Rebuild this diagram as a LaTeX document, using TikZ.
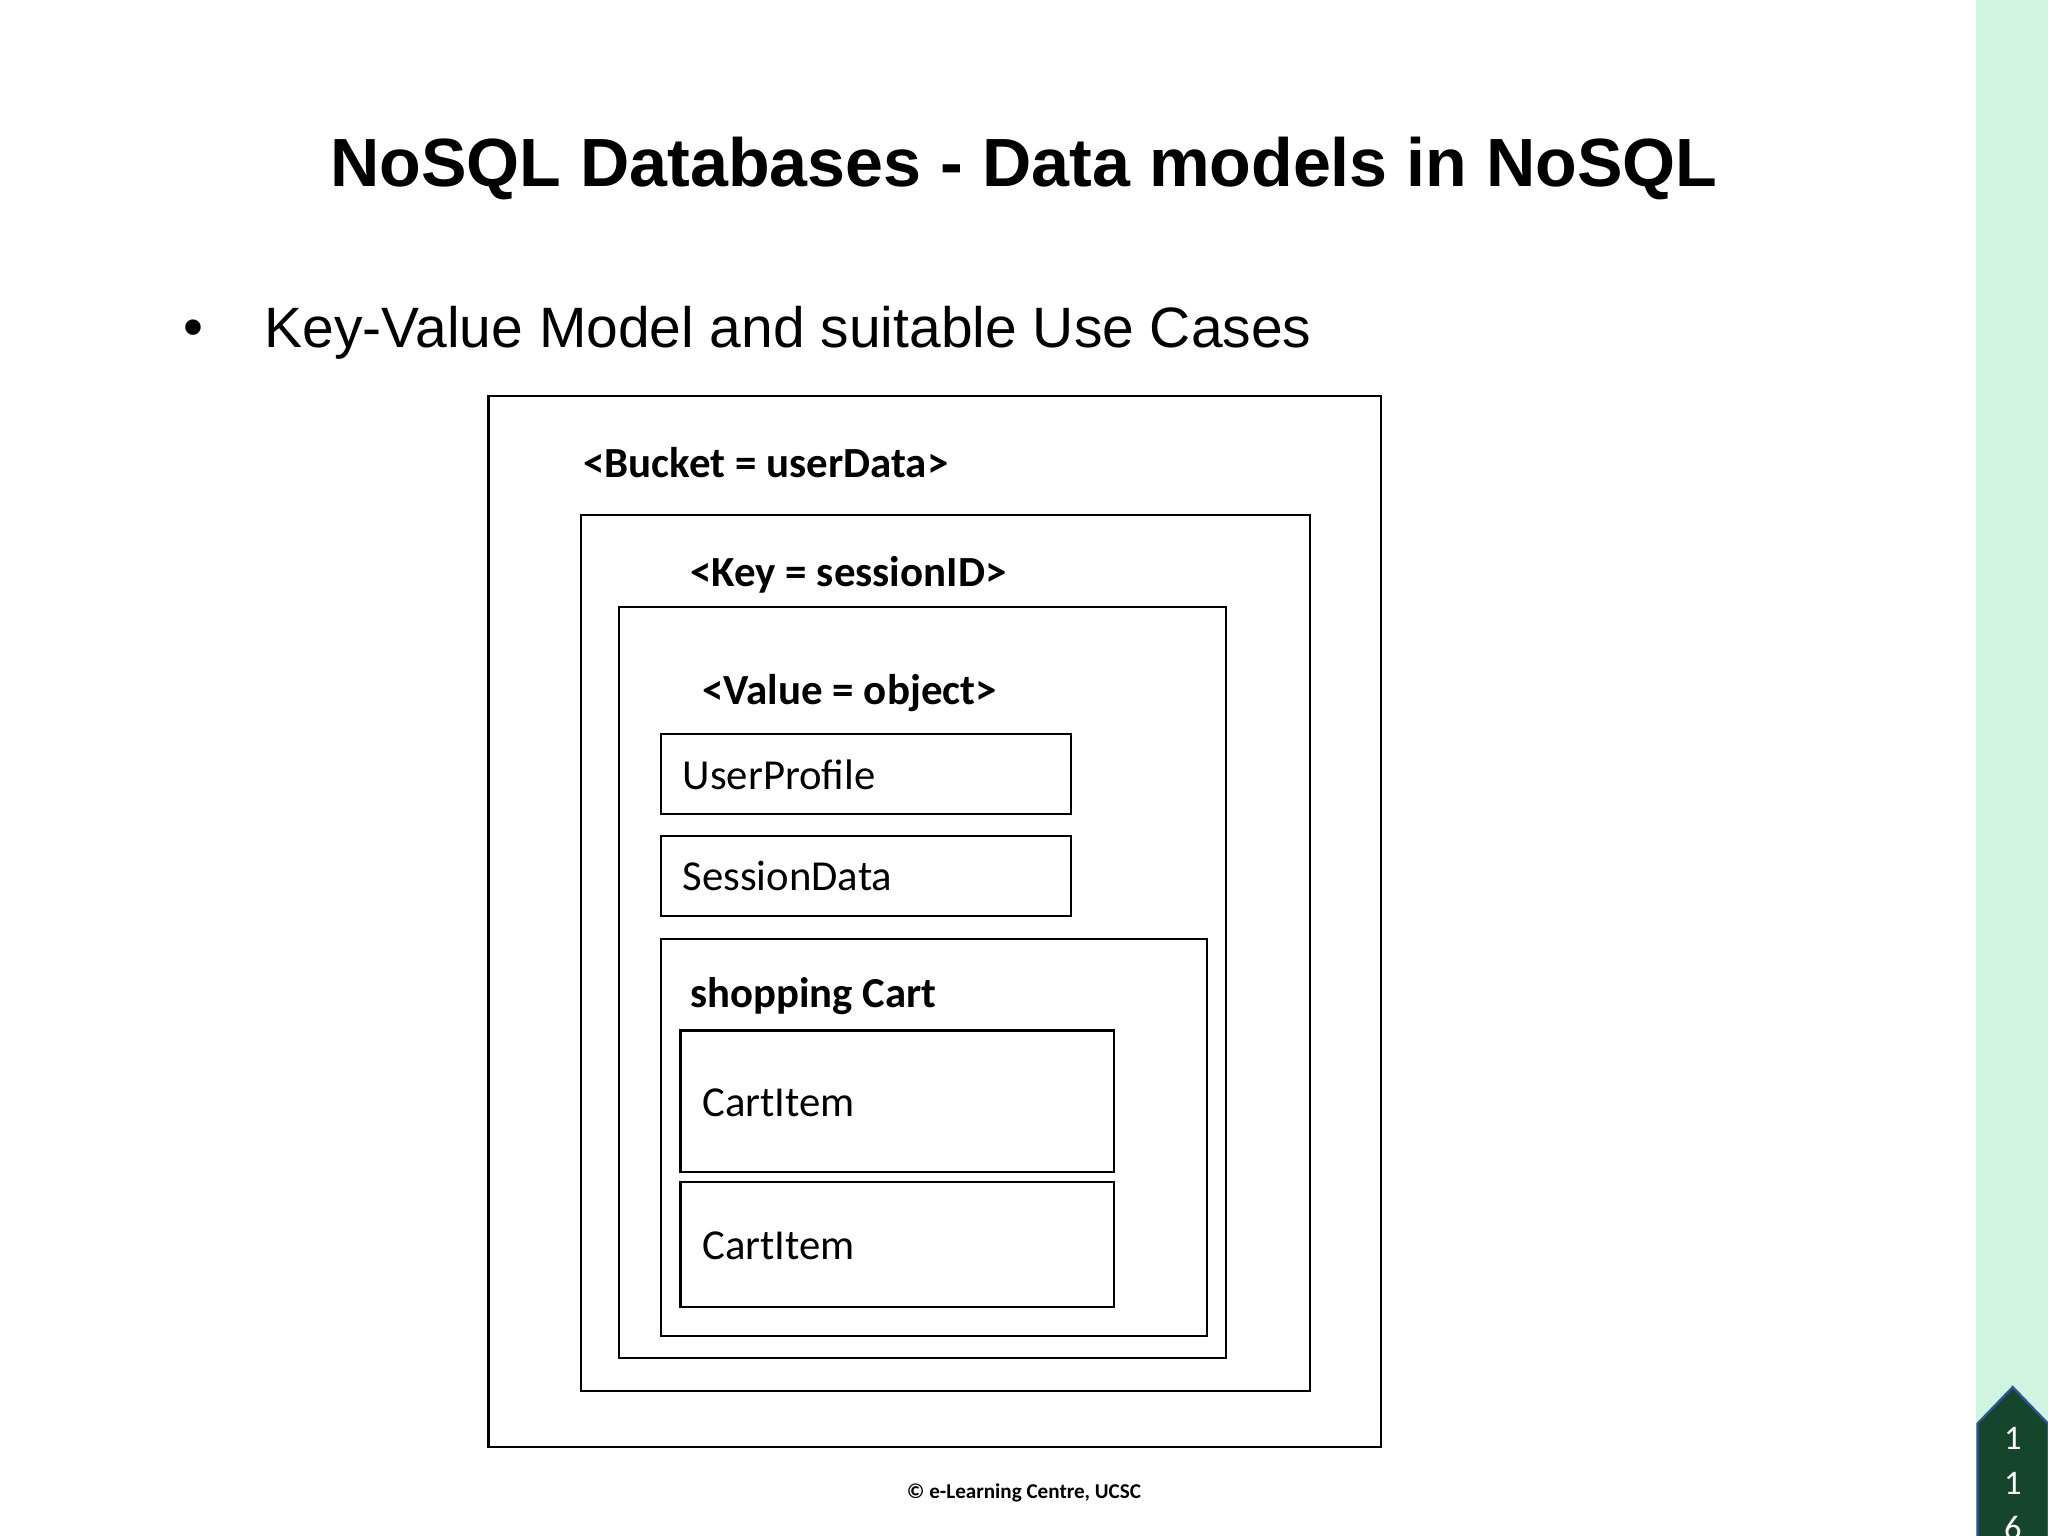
\documentclass[tikz,border=0pt]{standalone}
\usepackage{fontspec}
\setmainfont{Carlito}
\newfontfamily\arialf{Liberation Sans}
\definecolor{strip}{HTML}{CFF5E1}
\definecolor{badge}{HTML}{15452A}
\definecolor{badgeedge}{HTML}{2F5597}
\begin{document}
\begin{tikzpicture}[x=0.01cm,y=-0.01cm,
  bx/.style={draw=black,line width=0.45pt},
  lbl/.style={anchor=west,inner sep=0,font=\fontsize{9.35}{11}\selectfont\bfseries},
  itm/.style={anchor=west,inner sep=0,font=\fontsize{9.3}{11}\selectfont}]
\useasboundingbox (0,0) rectangle (1568,1176);
\fill[white] (0,0) rectangle (1568,1176);
\fill[strip] (1513,0) rectangle (1568,1176);
\filldraw[fill=badge,draw=badgeedge,line width=0.5pt] (1514,1176) -- (1514,1090) -- (1541,1062) -- (1568,1090) -- (1568,1176);
\foreach \y/\d in {1101/1,1136/1,1170/6}
  \node[text=white,inner sep=0,font=\fontsize{7.5}{9}\selectfont] (d\y) at (1541,\y) {\d};
\node[font=\arialf\fontsize{14.85}{18}\selectfont\bfseries] (title) at (784,129) {NoSQL Databases - Data models in NoSQL};
\node[anchor=west,inner sep=0,font=\arialf\fontsize{12.4}{15}\selectfont] (bul) at (140,255) {•};
\node[anchor=west,inner sep=0,font=\arialf\fontsize{12.4}{15}\selectfont] (sub) at (202,255) {Key-Value Model and suitable Use Cases};
\draw[bx] (374,303) rectangle (1057,1108);
\node[lbl] (bucket) at (446,354) {<Bucket = userData>};
\draw[bx] (445,394) rectangle (1003,1065);
\node[lbl] (key) at (528,440) {<Key = sessionID>};
\draw[bx] (474,465) rectangle (939,1040);
\node[lbl] (val) at (537,531) {<Value = object>};
\draw[bx] (506,562) rectangle (820,623);
\node[itm] (up) at (522,593) {UserProfile};
\draw[bx] (506,640) rectangle (820,701);
\node[itm] (sd) at (522,671) {SessionData};
\draw[bx] (506,719) rectangle (924,1023);
\node[lbl,font=\fontsize{9.3}{11}\selectfont\bfseries] (sc) at (528,763) {shopping Cart};
\draw[bx] (521,789) rectangle (853,897);
\node[itm] (c1) at (537,844) {CartItem};
\draw[bx] (521,905) rectangle (853,1001);
\node[itm] (c2) at (537,954) {CartItem};
\node[font=\fontsize{4.6}{6}\selectfont\bfseries] (foot) at (784,1143) {© e-Learning Centre, UCSC};
\end{tikzpicture}
\end{document}
